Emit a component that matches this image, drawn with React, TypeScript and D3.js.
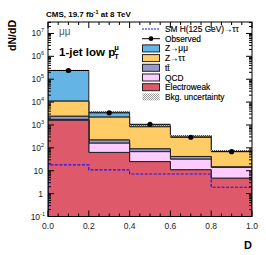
import React from "react";
import * as d3 from "d3";

// bin edges in D
const binEdges = [0, 0.2, 0.4, 0.6, 0.8, 1.0];

// per-bin yields (stack order bottom -> top)
const electroweak = [1600, 63, 25, 11, 4.7];
const qcd = [150, 97, 43, 21, 9.3];
const ttbar = [650, 60, 22, 10, 0.6];
const zTauTau = [8600, 1980, 740, 280, 56];
const zMuMu = [229000, 1500, 170, 20, 5];
const observed = [240000, 3400, 1070, 290, 68];
const smHiggs = [18, 11, 7.2, 7.2, 1.9];
const bkgUncFrac = 0.07;

const yTickExps = [-1, 0, 1, 2, 3, 4, 5, 6, 7];
const xTicks = [0, 0.2, 0.4, 0.6, 0.8, 1.0];

const processes = [
  { name: "Electroweak", values: electroweak, color: "#de5a6a" },
  { name: "QCD", values: qcd, color: "#ffccff" },
  { name: "tt\u0304", values: ttbar, color: "#9999cc" },
  { name: "Z\u2192\u03c4\u03c4", values: zTauTau, color: "#ffcc66" },
  { name: "Z\u2192\u03bc\u03bc", values: zMuMu, color: "#64b4e6" },
];

const W = 266;
const H = 255;
const font = "'Liberation Sans', Arial, sans-serif";

const App = () => {
  const x = d3.scaleLinear().domain([0, 1]).range([48, 252]);
  const y = d3.scaleLog().domain([0.1, Math.pow(10, 7.5)]).range([216.5, 22]);
  const [y0, y1] = y.range();

  // cumulative stack
  const nb = observed.length;
  const cum: number[][] = [];
  let prev = new Array(nb).fill(0);
  processes.forEach((p) => {
    const c = prev.map((v, i) => v + p.values[i]);
    cum.push(c);
    prev = c;
  });
  const totals = prev;

  const stepPath = (vals: number[], closeTo?: number[]) => {
    const pts: [number, number][] = [];
    vals.forEach((v, i) => {
      pts.push([x(binEdges[i]), y(v)]);
      pts.push([x(binEdges[i + 1]), y(v)]);
    });
    let d = "M" + pts.map((p) => p.join(",")).join("L");
    if (closeTo) {
      const back: [number, number][] = [];
      for (let i = nb - 1; i >= 0; i--) {
        const b = closeTo[i] > 0 ? y(closeTo[i]) : y0;
        back.push([x(binEdges[i + 1]), b]);
        back.push([x(binEdges[i]), b]);
      }
      d += "L" + back.map((p) => p.join(",")).join("L") + "Z";
    }
    return d;
  };

  const minorX = d3.range(0, 1.0001, 0.05);
  const minorY: number[] = [];
  for (let e = -1; e < 8; e++) {
    for (let k = 1; k < 10; k++) {
      const v = k * Math.pow(10, e);
      if (v >= 0.1 && v <= Math.pow(10, 7.5)) minorY.push(v);
    }
  }

  const legendItems = [
    { label: "SM H(125 GeV)\u2192\u03c4\u03c4", kind: "dash" },
    { label: "Observed", kind: "obs" },
    ...processes
      .slice()
      .reverse()
      .map((p) => ({ label: p.name, kind: "box", color: p.color })),
    { label: "Bkg. uncertainty", kind: "hatch" },
  ];

  return (
    <svg
      width={W}
      height={H}
      style={{ position: "absolute", left: 0, top: 0, background: "#fff" }}
      fontFamily={font}
    >
      <defs>
        <pattern id="hatch" width="2" height="2" patternUnits="userSpaceOnUse">
          <rect width="2" height="2" fill="#fff" />
          <rect width="1" height="1" fill="#555" />
          <rect x="1" y="1" width="1" height="1" fill="#555" />
        </pattern>
        <clipPath id="plot">
          <rect x={x(0)} y={y1} width={x(1) - x(0)} height={y0 - y1} />
        </clipPath>
      </defs>

      <g clipPath="url(#plot)">
        {processes
          .map((p, j) => (
            <path
              key={p.name}
              d={stepPath(cum[j], j > 0 ? cum[j - 1] : new Array(nb).fill(0))}
              fill={p.color}
              stroke="#222"
              strokeWidth={1}
            />
          ))
          .reverse()}
        {/* background uncertainty band */}
        {totals.map((t, i) => (
          <rect
            key={i}
            x={x(binEdges[i])}
            y={y(t * (1 + bkgUncFrac))}
            width={x(binEdges[i + 1]) - x(binEdges[i])}
            height={y(t * (1 - bkgUncFrac)) - y(t * (1 + bkgUncFrac))}
            fill="url(#hatch)"
            opacity={0.8}
          />
        ))}
        {/* SM Higgs */}
        <path
          d={"M" + x(0) + "," + y0 + "L" + stepPath(smHiggs).slice(1) + "L" + x(1) + "," + y0}
          fill="none"
          stroke="#1515ff"
          strokeWidth={1.2}
          strokeDasharray="3,1.5"
        />
        {/* observed */}
        {observed.map((o, i) => (
          <g key={i}>
            <line
              x1={x(binEdges[i])}
              x2={x(binEdges[i + 1])}
              y1={y(o)}
              y2={y(o)}
              stroke="#000"
              strokeWidth={1}
            />
            <circle cx={x((binEdges[i] + binEdges[i + 1]) / 2)} cy={y(o)} r={2.6} fill="#000" />
          </g>
        ))}
      </g>

      {/* frame */}
      <rect x={x(0)} y={y1} width={x(1) - x(0)} height={y0 - y1} fill="none" stroke="#000" strokeWidth={1} />

      {/* x ticks */}
      {minorX.map((t, i) => {
        const major = xTicks.some((m) => Math.abs(m - t) < 1e-6);
        const len = major ? 6 : 3;
        return (
          <g key={i} stroke="#000" strokeWidth={1}>
            <line x1={x(t)} x2={x(t)} y1={y0} y2={y0 - len} />
            <line x1={x(t)} x2={x(t)} y1={y1} y2={y1 + len} />
          </g>
        );
      })}
      {xTicks.map((t) => (
        <text key={t} x={x(t)} y={229} fontSize={8.5} textAnchor="middle" fill="#222">
          {t.toFixed(1)}
        </text>
      ))}

      {/* y ticks */}
      {minorY.map((v, i) => {
        const major = Math.abs(Math.log10(v) - Math.round(Math.log10(v))) < 1e-6;
        const len = major ? 6 : 3;
        return (
          <g key={i} stroke="#000" strokeWidth={1}>
            <line x1={x(0)} x2={x(0) + len} y1={y(v)} y2={y(v)} />
            <line x1={x(1)} x2={x(1) - len} y1={y(v)} y2={y(v)} />
          </g>
        );
      })}
      {yTickExps.map((e) => {
        const yy = y(Math.pow(10, e)) + 3;
        if (e === 0 || e === 1) {
          return (
            <text key={e} x={43} y={yy} fontSize={8.5} textAnchor="end" fill="#222">
              {e === 0 ? "1" : "10"}
            </text>
          );
        }
        return (
          <text key={e} x={e < 0 ? 45 : 44} y={yy} fontSize={8.5} textAnchor="end" fill="#222">
            10
            <tspan fontSize={5.5} dy={-4}>
              {e}
            </tspan>
          </text>
        );
      })}

      {/* axis titles */}
      <text
        transform="translate(16,20) rotate(-90)"
        fontSize={10.5}
        fontWeight="bold"
        textAnchor="end"
      >
        dN/dD
      </text>
      <text x={252} y={249} fontSize={11} fontWeight="bold" textAnchor="end">
        D
      </text>

      {/* header */}
      <text x={46} y={16.5} fontSize={8} fontWeight="bold">
        CMS, 19.7 fb
        <tspan fontSize={5.5} dy={-3}>
          -1
        </tspan>
        <tspan dy={3}> at 8 TeV</tspan>
      </text>
      <text x={59} y={35} fontSize={10} fill="#555">
        {"\u03bc\u03bc"}
      </text>
      <text x={59} y={56} fontSize={11.5} fontWeight="bold">
        1-jet low p
        <tspan fontSize={7.5} dy={-6} dx={-1}>
          {"\u03bc"}
        </tspan>
        <tspan fontSize={7.5} dy={9} dx={-4.5}>
          T
        </tspan>
      </text>

      {/* legend */}
      {legendItems.map((it: any, i) => {
        const ly = 29 + i * 9.7;
        return (
          <g key={i}>
            {it.kind === "dash" && (
              <line x1={142} x2={160} y1={ly} y2={ly} stroke="#1515ff" strokeWidth={1.2} strokeDasharray="2,1" />
            )}
            {it.kind === "obs" && (
              <g>
                <line x1={142} x2={160} y1={ly} y2={ly} stroke="#000" strokeWidth={1} />
                <circle cx={151} cy={ly} r={2.4} fill="#000" />
              </g>
            )}
            {it.kind === "box" && (
              <rect x={142.5} y={ly - 3.5} width={17} height={7} fill={it.color} stroke="#222" strokeWidth={1} />
            )}
            {it.kind === "hatch" && (
              <rect x={142.5} y={ly - 3.5} width={17} height={7} fill="url(#hatch)" opacity={0.6} />
            )}
            <text x={165} y={ly + 3} fontSize={8.3} fill="#000" stroke="#000" strokeWidth={0.15}>
              {it.label}
            </text>
          </g>
        );
      })}
    </svg>
  );
};

export default App;
